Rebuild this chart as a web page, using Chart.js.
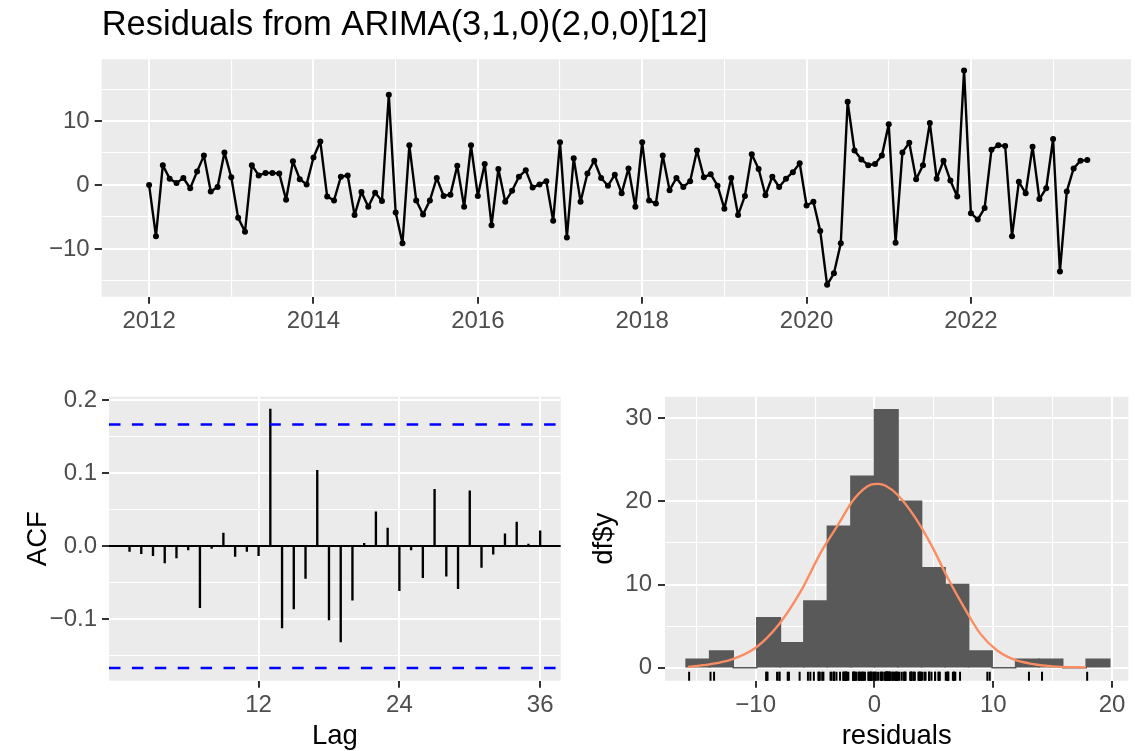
<!DOCTYPE html>
<html>
<head>
<meta charset="utf-8">
<script src="https://cdn.jsdelivr.net/npm/chart.js@4.4.0/dist/chart.umd.min.js"></script>
<style>
  html, body { margin: 0; padding: 0; background: #fff; }
  #wrap { position: relative; width: 1135px; height: 751px; overflow: hidden; }
  #wrap canvas { position: absolute; left: 0; top: 0; }
</style>
</head>
<body>
<div id="wrap">
  <canvas id="resid" width="1135" height="751"></canvas>
  <canvas id="acf" width="1135" height="751"></canvas>
  <canvas id="hist" width="1135" height="751"></canvas>
</div>
<script>
// monthly residuals, Jan 2012 .. Jun 2023
const startYear = 2012;
const residuals = [
  0.0, -8.0, 3.1, 1.0, 0.3, 1.1, -0.5, 2.1, 4.6, -1.0, -0.3, 5.1,
  1.2, -5.1, -7.3, 3.1, 1.5, 1.9, 1.9, 1.8, -2.3, 3.7, 0.9, 0.1,
  4.3, 6.8, -1.8, -2.4, 1.3, 1.5, -4.7, -1.1, -3.4, -1.2, -2.5, 14.1,
  -4.3, -9.1, 6.2, -2.4, -4.6, -2.4, 1.1, -1.7, -1.5, 3.0, -3.4, 6.2,
  -1.7, 3.3, -6.3, 2.5, -2.6, -0.9, 1.3, 2.3, -0.4, 0.1, 0.6, -5.6,
  6.7, -8.2, 4.2, -2.6, 1.8, 3.8, 1.1, -0.1, 1.6, -1.3, 2.6, -3.4,
  6.7, -2.4, -2.9, 4.6, -0.8, 1.1, -0.3, 0.6, 5.4, 1.2, 1.7, -0.1,
  -3.7, 1.1, -4.7, -1.7, 4.8, 2.5, -1.6, 1.3, -0.3, 1.0, 2.0, 3.4,
  -3.2, -2.6, -7.2, -15.6, -13.8, -9.1, 13.0, 5.4, 4.0, 3.1, 3.3, 4.6,
  9.5, -9.0, 5.1, 6.6, 0.9, 3.1, 9.7, 1.0, 3.8, 0.7, -1.8, 17.9,
  -4.4, -5.4, -3.6, 5.5, 6.2, 6.1, -8.0, 0.5, -1.3, 6.0, -2.2, -0.5,
  7.2, -13.5, -1.0, 2.6, 3.8, 3.9
];
const yearTicks = [2012, 2013, 2014, 2015, 2016, 2017, 2018, 2019, 2020, 2021, 2022, 2023];
const yearLabels = [2012, 2014, 2016, 2018, 2020, 2022];
const residTicks = [-15, -10, -5, 0, 5, 10, 15];
const residLabels = [-10, 0, 10];

// ACF of residuals
const lags = [1,2,3,4,5,6,7,8,9,10,11,12,13,14,15,16,17,18,19,20,21,22,23,24,25,26,27,28,29,30,31,32,33,34,35,36];
const acfValues = [
  -0.007, -0.010, -0.013, -0.023, -0.016, -0.005, -0.084, -0.003, 0.018, -0.014, -0.007, -0.013,
  0.188, -0.112, -0.086, -0.044, 0.104, -0.101, -0.131, -0.074, 0.004, 0.047, 0.025, -0.061,
  -0.005, -0.043, 0.078, -0.041, -0.058, 0.076, -0.029, -0.011, 0.017, 0.033, 0.003, 0.021
];
const ciLimit = 0.1668;
const acfTicksY = [-0.15, -0.1, -0.05, 0, 0.05, 0.1, 0.15, 0.2];
const acfLabelsY = [-0.1, 0, 0.1, 0.2];
const lagTicks = [12, 24, 36];

// histogram
const binLeft = [-15.85, -13.87, -11.89, -9.9, -7.92, -5.94, -3.96, -1.98, 0.0, 1.98, 3.96, 5.94, 7.92, 9.9, 11.88, 13.86, 15.84, 17.82];
const binWidth = 1.98;
const binCounts = [1, 2, 0, 6, 3, 8, 17, 23, 31, 20, 12, 10, 2, 0, 1, 1, 0, 1];
const normX = [-15.7, -13.9, -12.0, -10.0, -8.1, -6.2, -4.5, -3.1, -1.7, -0.3, 0.3, 0.9, 2.0, 3.4, 4.8, 6.2, 7.6, 8.9, 10.3, 11.7, 13.1, 15.0, 17.8];
const normY = [0.1, 0.4, 1.0, 2.4, 5.1, 9.2, 13.9, 17.1, 20.3, 22.0, 22.1, 21.9, 20.7, 18.1, 14.7, 10.7, 7.1, 4.1, 2.1, 1.0, 0.5, 0.16, 0.04];
const histTicksX = [-15, -10, -5, 0, 5, 10, 15, 20];
const histLabelsX = [-10, 0, 10, 20];
const histTicksY = [0, 5, 10, 15, 20, 25, 30];
const histLabelsY = [0, 10, 20, 30];

Chart.defaults.font.family = "'Liberation Sans', Arial, Helvetica, sans-serif";
Chart.defaults.animation = false;

const panelBg = {
  id: 'panelBg',
  beforeDraw(chart) {
    const a = chart.chartArea, ctx = chart.ctx;
    ctx.save();
    ctx.fillStyle = '#EBEBEB';
    ctx.fillRect(a.left, a.top, a.right - a.left, a.bottom - a.top);
    ctx.restore();
  }
};

function has(list, v) {
  return list.some(t => Math.abs(t - v) < 1e-6);
}
function fmt(v, dec) {
  const s = Math.abs(v).toFixed(dec);
  return v < -1e-9 ? '\u2212' + s : s;
}

// builds a ggplot-like axis
function axis(o) {
  return {
    type: 'linear',
    min: o.min, max: o.max,
    offset: false,
    afterBuildTicks: s => { s.ticks = o.ticks.map(v => ({ value: v })); },
    afterFit: s => { if (o.width) s.width = o.width; if (o.height) s.height = o.height; },
    ticks: {
      autoSkip: false, maxRotation: 0, minRotation: 0,
      padding: o.pad, color: '#4D4D4D',
      font: { size: 24 },
      callback: v => has(o.labels, v) ? fmt(v, o.dec) : ''
    },
    grid: {
      offset: false,
      color: c => (o.zeroBlack && Math.abs(c.tick.value) < 1e-9) ? '#000' : '#FFFFFF',
      lineWidth: c => has(o.labels, c.tick.value) ? 2 : 1.1,
      tickLength: 7,
      tickWidth: 2,
      tickColor: c => has(o.labels, c.tick.value) ? '#333333' : 'rgba(0,0,0,0)'
    },
    border: { display: false },
    title: o.title ? {
      display: true, text: o.title, color: '#000',
      font: { size: 27.5 }, padding: o.titlePad
    } : { display: false }
  };
}

const basePlugins = { legend: { display: false }, tooltip: { enabled: false } };

// top: residual time series
new Chart(document.getElementById('resid'), {
  type: 'line',
  data: {
    datasets: [{
      data: residuals.map((v, i) => ({ x: startYear + i / 12, y: v })),
      borderColor: '#000', borderWidth: 2.4, borderJoinStyle: 'round',
      pointRadius: 3, pointBackgroundColor: '#000', pointBorderWidth: 0,
      tension: 0
    }]
  },
  options: {
    responsive: false, events: [],
    layout: { padding: { left: 0, right: 0, top: 0, bottom: 751 - 296.7 - 40 } },
    plugins: Object.assign({}, basePlugins, {
      title: {
        display: true, text: 'Residuals from ARIMA(3,1,0)(2,0,0)[12]',
        align: 'start', fullSize: false, color: '#000',
        font: { size: 34.5, weight: 'normal' },
        padding: { top: 5, bottom: 12.9 }
      }
    }),
    scales: {
      x: axis({ min: 2011.423, max: 2023.948, ticks: yearTicks, labels: yearLabels, dec: 0, height: 40, pad: 3 }),
      y: axis({ min: -17.45, max: 19.65, ticks: residTicks, labels: residLabels, dec: 0, width: 101.7, pad: 5 })
    }
  },
  plugins: [panelBg]
});

// bottom left: ACF
new Chart(document.getElementById('acf'), {
  type: 'bar',
  data: {
    datasets: [
      { type: 'line', data: [{ x: -0.75, y: ciLimit }, { x: 37.75, y: ciLimit }], borderColor: '#0000FF', borderWidth: 2.3, borderDash: [11.5, 11.4], pointRadius: 0 },
      { type: 'line', data: [{ x: -0.75, y: -ciLimit }, { x: 37.75, y: -ciLimit }], borderColor: '#0000FF', borderWidth: 2.3, borderDash: [11.5, 11.4], pointRadius: 0 },
      { type: 'bar', data: lags.map((l, i) => ({ x: l, y: acfValues[i] })), backgroundColor: '#000', barThickness: 1.7 }
    ]
  },
  options: {
    responsive: false, events: [],
    layout: { padding: { left: 0, right: 1135 - 560.7, top: 396.7, bottom: 751 - 680.7 - 70 } },
    plugins: basePlugins,
    scales: {
      x: axis({ min: -0.75, max: 37.75, ticks: lagTicks, labels: lagTicks, dec: 0, height: 70, pad: 3, title: 'Lag', titlePad: { top: 0, bottom: -2 } }),
      y: axis({ min: -0.1842, max: 0.2049, ticks: acfTicksY, labels: acfLabelsY, dec: 1, width: 109, pad: 5, zeroBlack: true, title: 'ACF', titlePad: { top: 22, bottom: 0 } })
    }
  },
  plugins: [panelBg]
});

// bottom right: histogram with normal curve and rug
new Chart(document.getElementById('hist'), {
  type: 'bar',
  data: {
    datasets: [
      { type: 'scatter', data: residuals.map(v => ({ x: v, y: -1.05 })), pointStyle: 'line', pointRotation: 90, pointRadius: 4.6, pointBorderColor: '#000', pointBorderWidth: 2, order: 3 },
      { type: 'line', data: normX.map((x, i) => ({ x: x, y: normY[i] })), borderColor: '#FC8D62', borderWidth: 2.4, pointRadius: 0, cubicInterpolationMode: 'monotone', order: 1 },
      { type: 'bar', data: binLeft.map((l, i) => ({ x: l + binWidth / 2, y: binCounts[i] })), backgroundColor: '#595959', barPercentage: 1, categoryPercentage: 1, inflateAmount: 0.8, order: 2 }
    ]
  },
  options: {
    responsive: false, events: [],
    layout: { padding: { left: 575, right: 0, top: 396.7, bottom: 751 - 680.7 - 70 } },
    plugins: basePlugins,
    scales: {
      x: axis({ min: -17.63, max: 21.37, ticks: histTicksX, labels: histLabelsX, dec: 0, height: 70, pad: 3, title: 'residuals', titlePad: { top: 0, bottom: -2 } }),
      y: axis({ min: -1.56, max: 32.58, ticks: histTicksY, labels: histLabelsY, dec: 0, width: 90, pad: 6, title: 'df$y', titlePad: { top: 12.5, bottom: 0 } })
    }
  },
  plugins: [panelBg]
});
</script>
</body>
</html>
